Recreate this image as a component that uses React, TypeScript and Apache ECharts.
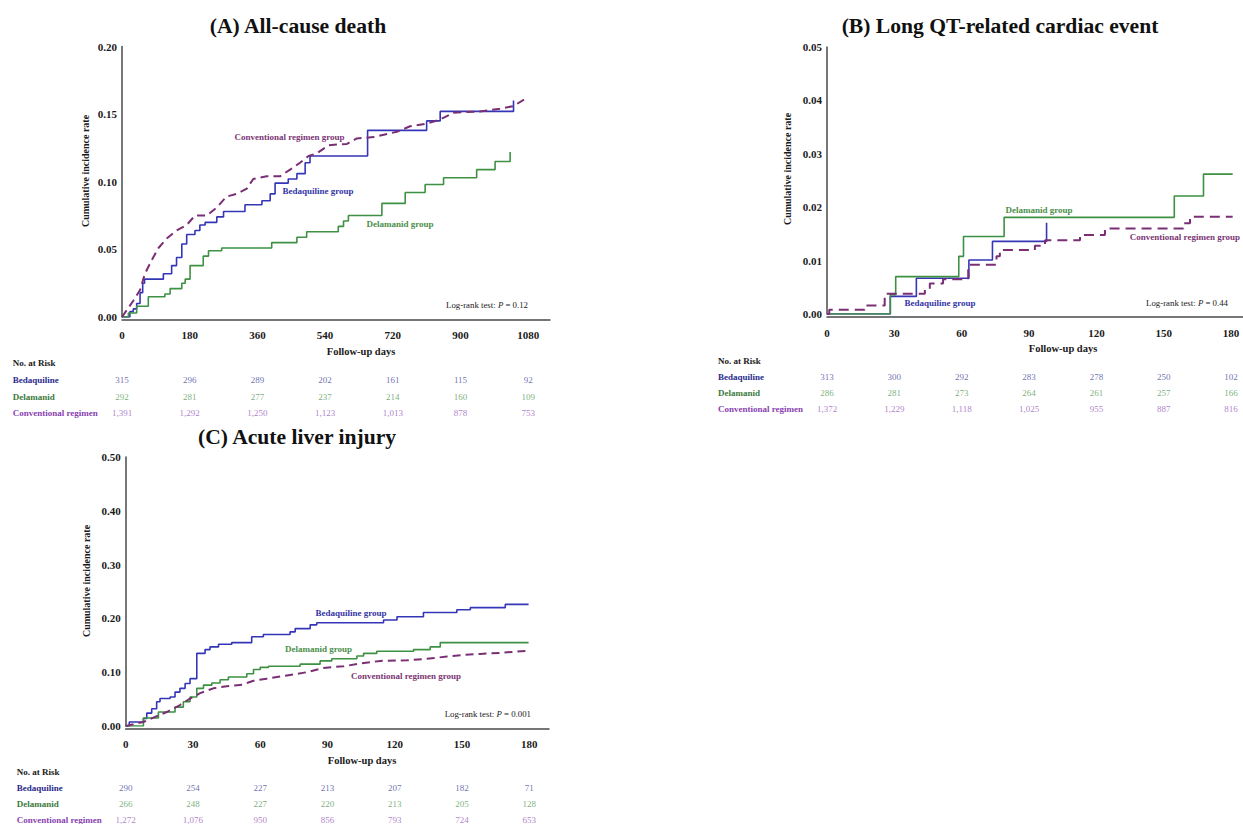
import React, { useEffect, useRef } from "react";
import * as echarts from "echarts";

const FONT = "'Liberation Serif', 'Times New Roman', serif";

// ---------------- Data ----------------
const groups = ["Bedaquiline", "Delamanid", "Conventional regimen"];

// Panel A: All-cause death
const aTicks = [0, 180, 360, 540, 720, 900, 1080];
const aBedaDays = [0, 21, 30, 39, 48, 55, 60, 110, 132, 145, 159, 172, 194, 207, 221, 252, 270, 327, 372, 394, 407, 442, 465, 487, 500, 653, 810, 846, 1041];
const aBedaRate = [0, 0.004, 0.006, 0.01, 0.018, 0.025, 0.028, 0.032, 0.038, 0.044, 0.054, 0.061, 0.064, 0.068, 0.07, 0.074, 0.078, 0.083, 0.086, 0.091, 0.099, 0.102, 0.106, 0.114, 0.119, 0.138, 0.145, 0.152, 0.16];
const aDelaDays = [0, 17, 39, 70, 114, 128, 159, 168, 181, 216, 230, 265, 398, 465, 491, 575, 589, 602, 691, 753, 806, 855, 943, 992, 1032];
const aDelaRate = [0, 0.003, 0.008, 0.015, 0.017, 0.021, 0.025, 0.028, 0.038, 0.045, 0.049, 0.051, 0.055, 0.059, 0.063, 0.067, 0.071, 0.075, 0.084, 0.092, 0.098, 0.103, 0.109, 0.115, 0.122];
const aConvDays = [0, 30, 48, 61, 79, 97, 119, 145, 172, 194, 225, 252, 278, 305, 332, 349, 385, 420, 447, 473, 496, 518, 549, 598, 624, 669, 731, 766, 810, 846, 881, 952, 1005, 1041, 1076];
const aConvRate = [0, 0.012, 0.02, 0.032, 0.042, 0.051, 0.058, 0.064, 0.068, 0.075, 0.075, 0.081, 0.089, 0.091, 0.095, 0.102, 0.104, 0.104, 0.109, 0.114, 0.119, 0.121, 0.127, 0.128, 0.132, 0.133, 0.137, 0.141, 0.143, 0.146, 0.151, 0.152, 0.154, 0.156, 0.162];
const aRiskBeda = [315, 296, 289, 202, 161, 115, 92];
const aRiskDela = [292, 281, 277, 237, 214, 160, 109];
const aRiskConv = [1391, 1292, 1250, 1123, 1013, 878, 753];

// Panel B: Long QT-related cardiac event
const bTicks = [0, 30, 60, 90, 120, 150, 180];
const bBedaDays = [0, 28.2, 39.8, 63.2, 73.7, 97.8];
const bBedaRate = [0, 0.0033, 0.0067, 0.0101, 0.0136, 0.0171];
const bDelaDays = [0, 28.2, 30.6, 58.7, 60.8, 78.9, 154.7, 167.7, 180.7];
const bDelaRate = [0, 0.0036, 0.007, 0.0108, 0.0145, 0.0181, 0.0221, 0.0262, 0.0262];
const bConvDays = [0, 1, 16.8, 25.7, 43.6, 45.8, 51.7, 62.9, 63.6, 75.5, 77, 92.6, 97.1, 112.7, 123.8, 158.7, 161.7, 180.7];
const bConvRate = [0, 0.0008, 0.0016, 0.0038, 0.0047, 0.0057, 0.0065, 0.0083, 0.0092, 0.0108, 0.012, 0.0128, 0.0138, 0.0148, 0.016, 0.017, 0.0182, 0.0182];
const bRiskBeda = [313, 300, 292, 283, 278, 250, 102];
const bRiskDela = [286, 281, 273, 264, 261, 257, 166];
const bRiskConv = [1372, 1229, 1118, 1025, 955, 887, 816];

// Panel C: Acute liver injury
const cTicks = [0, 30, 60, 90, 120, 150, 180];
const cBedaDays = [0, 1.6, 7.9, 9.4, 11.6, 13.8, 15.3, 19.8, 22, 24.2, 26.5, 28.7, 31.7, 35.4, 37.6, 41.4, 47.3, 56.2, 61.4, 73.3, 75.6, 82.3, 85.2, 115, 121, 132.8, 147.7, 153.7, 169.3, 179.7];
const cBedaRate = [0, 0.0075, 0.014, 0.024, 0.032, 0.045, 0.051, 0.054, 0.063, 0.07, 0.079, 0.088, 0.135, 0.142, 0.147, 0.152, 0.155, 0.166, 0.17, 0.175, 0.181, 0.188, 0.192, 0.197, 0.203, 0.211, 0.216, 0.22, 0.226, 0.226];
const cDelaDays = [0, 7.9, 14.6, 22, 25.7, 28.7, 31.7, 34.7, 38.4, 42.1, 45.8, 54, 57, 60, 63.7, 77.8, 86.7, 91.9, 103.1, 106.1, 112, 128.4, 135.8, 140.3, 179.7];
const cDelaRate = [0, 0.015, 0.026, 0.035, 0.045, 0.054, 0.07, 0.076, 0.08, 0.086, 0.091, 0.097, 0.105, 0.109, 0.111, 0.115, 0.121, 0.125, 0.13, 0.135, 0.139, 0.142, 0.147, 0.155, 0.155];
const cConvDays = [0, 7.9, 13.1, 18.3, 24.2, 28.7, 33.2, 39.1, 45.1, 51, 57, 62.9, 71.9, 80.8, 88.2, 97.1, 104.6, 113.5, 125.4, 134.3, 143.3, 150.7, 158.1, 167.1, 179.7];
const cConvRate = [0, 0.0075, 0.017, 0.026, 0.039, 0.051, 0.061, 0.07, 0.074, 0.076, 0.084, 0.088, 0.094, 0.1, 0.108, 0.111, 0.116, 0.121, 0.122, 0.125, 0.129, 0.132, 0.134, 0.136, 0.14];
const cRiskBeda = [290, 254, 227, 213, 207, 182, 71];
const cRiskDela = [266, 248, 227, 220, 213, 205, 128];
const cRiskConv = [1272, 1076, 950, 856, 793, 724, 653];

const titles = ["(A) All-cause death", "(B) Long QT-related cardiac event", "(C) Acute liver injury"];
const pTexts = ["0.12", "0.44", "0.001"];

// ---------------- Styles / layout ----------------
const BLUE = "#3535b8";
const GREEN = "#3e9142";
const PURPLE = "#7a2f74";
const LBL_BLUE = "#3535a6";
const LBL_GREEN = "#4b8f4b";
const LBL_PURPLE = "#7b3575";
const ROW_LABEL_COLORS = ["#2b2b8c", "#3d7a3d", "#8a3fb0"];
const ROW_NUM_COLORS = ["#4a4a9e", "#5a9a5a", "#9a60c0"];

type Layout = {
  left: number; top: number; width: number; height: number;
  xMax: number; xInterval: number; yMax: number; yInterval: number;
  labelMargin: number; dash: number[];
  riskTop: number; rowH: number; labelX: number;
  title: [number, number]; yTitle: [number, number]; xTitle: [number, number];
  noRisk: [number, number];
  convStep: boolean;
  lblBeda: [number, number]; lblDela: [number, number]; lblConv: [number, number, string];
  logrank: [number, number];
};

const layouts: Layout[] = [
  {
    left: 122, top: 46.5, width: 428, height: 270.5, xMax: 1138, xInterval: 180, yMax: 0.2, yInterval: 0.05,
    labelMargin: 9, dash: [8, 5], riskTop: 371.75, rowH: 16.5, labelX: 12.7,
    title: [298, 26], yTitle: [85, 171], xTitle: [361, 351.7], noRisk: [12.7, 363], convStep: false,
    lblBeda: [318, 191], lblDela: [400, 224], lblConv: [289.5, 137, "center"], logrank: [528, 305],
  },
  {
    left: 827, top: 47, width: 416, height: 267, xMax: 185.3, xInterval: 30, yMax: 0.05, yInterval: 0.01,
    labelMargin: 10, dash: [10, 6], riskTop: 368.55, rowH: 16.3, labelX: 718,
    title: [1000, 26], yTitle: [787, 169], xTitle: [1063, 348], noRisk: [718, 360.7], convStep: true,
    lblBeda: [940, 303], lblDela: [1039, 210], lblConv: [1240, 237, "right"], logrank: [1228, 303],
  },
  {
    left: 125.7, top: 457, width: 423.3, height: 269, xMax: 188.8, xInterval: 30, yMax: 0.5, yInterval: 0.1,
    labelMargin: 9.5, dash: [8, 5], riskTop: 780, rowH: 16, labelX: 16.7,
    title: [297, 437], yTitle: [86, 581], xTitle: [362, 760], noRisk: [16.7, 771.7], convStep: false,
    lblBeda: [351, 613], lblDela: [318.5, 649], lblConv: [406, 676, "center"], logrank: [531, 714],
  },
];

const zip = (xs: number[], ys: number[]) => xs.map((x, i) => [x, ys[i]]);

const panels = [
  { ticks: aTicks, beda: zip(aBedaDays, aBedaRate), dela: zip(aDelaDays, aDelaRate), conv: zip(aConvDays, aConvRate), risk: [aRiskBeda, aRiskDela, aRiskConv] },
  { ticks: bTicks, beda: zip(bBedaDays, bBedaRate), dela: zip(bDelaDays, bDelaRate), conv: zip(bConvDays, bConvRate), risk: [bRiskBeda, bRiskDela, bRiskConv] },
  { ticks: cTicks, beda: zip(cBedaDays, cBedaRate), dela: zip(cDelaDays, cDelaRate), conv: zip(cConvDays, cConvRate), risk: [cRiskBeda, cRiskDela, cRiskConv] },
];

function buildOption() {
  const grid: any[] = [];
  const xAxis: any[] = [];
  const yAxis: any[] = [];
  const series: any[] = [];
  const graphic: any[] = [];

  panels.forEach((p, i) => {
    const L = layouts[i];
    grid.push({ left: L.left, top: L.top, width: L.width, height: L.height, containLabel: false, outerBoundsMode: "none" });
    xAxis.push({
      gridIndex: i, type: "value", min: 0, max: L.xMax, interval: L.xInterval, offset: 3,
      axisLine: { show: true, onZero: false, lineStyle: { color: "#4a4a4a", width: 1.5 } },
      axisTick: { show: false }, splitLine: { show: false },
      axisLabel: {
        margin: L.labelMargin, fontFamily: FONT, fontWeight: "bold", fontSize: 11, color: "#1a1a1a",
        showMaxLabel: false,
        formatter: (v: number) => (p.ticks.indexOf(v) >= 0 ? String(v) : ""),
      },
    });
    yAxis.push({
      gridIndex: i, type: "value", min: 0, max: L.yMax, interval: L.yInterval,
      axisLine: { show: true, lineStyle: { color: "#4a4a4a", width: 1.5 } },
      axisTick: { show: false }, splitLine: { show: false },
      axisLabel: {
        margin: 5, fontFamily: FONT, fontWeight: "bold", fontSize: 11, color: "#1a1a1a",
        formatter: (v: number) => v.toFixed(2),
      },
    });
    const common = { xAxisIndex: i, yAxisIndex: i, symbol: "none", showSymbol: false, silent: true, z: 3 };
    series.push({ ...common, type: "line", name: "Bedaquiline", step: "end", data: p.beda, lineStyle: { color: BLUE, width: 1.6 }, itemStyle: { color: BLUE } });
    series.push({ ...common, type: "line", name: "Delamanid", step: "end", data: p.dela, lineStyle: { color: GREEN, width: 1.6 }, itemStyle: { color: GREEN } });
    series.push({ ...common, type: "line", name: "Conventional regimen", step: L.convStep ? "end" : false, data: p.conv, z: 4, lineStyle: { color: PURPLE, width: 2, type: L.dash }, itemStyle: { color: PURPLE } });
  });

  // risk tables
  panels.forEach((p, i) => {
    const L = layouts[i];
    const gi = 3 + i;
    grid.push({ left: L.left, top: L.riskTop, width: L.width, height: L.rowH * 3, containLabel: false, outerBoundsMode: "none" });
    xAxis.push({ gridIndex: gi, type: "value", min: 0, max: L.xMax, show: false });
    yAxis.push({
      gridIndex: gi, type: "category", data: groups, inverse: true,
      axisLine: { show: false }, axisTick: { show: false }, splitLine: { show: false },
      axisLabel: {
        align: "left", margin: L.left - L.labelX, fontFamily: FONT, fontWeight: "bold", fontSize: 9,
        color: (_v: string, idx: number) => ROW_LABEL_COLORS[idx],
      },
    });
    p.risk.forEach((row, r) => {
      series.push({
        type: "scatter", xAxisIndex: gi, yAxisIndex: gi, silent: true,
        symbol: "circle", symbolSize: 1, itemStyle: { color: "rgba(0,0,0,0)" },
        data: p.ticks.map((t, k) => [t, groups[r], row[k]]),
        encode: { x: 0, y: 1 },
        label: {
          show: true, position: "inside", fontFamily: FONT, fontSize: 9, color: ROW_NUM_COLORS[r],
          formatter: (q: any) => Number(q.value[2]).toLocaleString("en-US"),
        },
      });
    });
  });

  // texts
  layouts.forEach((L, i) => {
    graphic.push({ type: "text", x: L.title[0], y: L.title[1], style: { text: titles[i], font: `bold 21.6px ${FONT}`, fill: "#111", textAlign: "center", textVerticalAlign: "middle" } });
    graphic.push({ type: "text", x: L.yTitle[0], y: L.yTitle[1], rotation: Math.PI / 2, style: { text: "Cumulative incidence rate", font: `bold 10px ${FONT}`, fill: "#1a1a1a", textAlign: "center", textVerticalAlign: "middle" } });
    graphic.push({ type: "text", x: L.xTitle[0], y: L.xTitle[1], style: { text: "Follow-up days", font: `bold 10.5px ${FONT}`, fill: "#1a1a1a", textAlign: "center", textVerticalAlign: "middle" } });
    graphic.push({ type: "text", x: L.noRisk[0], y: L.noRisk[1], style: { text: "No. at Risk", font: `bold 9px ${FONT}`, fill: "#1a1a1a", textAlign: "left", textVerticalAlign: "middle" } });
    graphic.push({ type: "text", x: L.lblBeda[0], y: L.lblBeda[1], z: 10, style: { text: "Bedaquiline group", font: `bold 9px ${FONT}`, fill: LBL_BLUE, textAlign: "center", textVerticalAlign: "middle" } });
    graphic.push({ type: "text", x: L.lblDela[0], y: L.lblDela[1], z: 10, style: { text: "Delamanid group", font: `bold 9px ${FONT}`, fill: LBL_GREEN, textAlign: "center", textVerticalAlign: "middle" } });
    graphic.push({ type: "text", x: L.lblConv[0], y: L.lblConv[1], z: 10, style: { text: "Conventional regimen group", font: `bold 9px ${FONT}`, fill: LBL_PURPLE, textAlign: L.lblConv[2], textVerticalAlign: "middle" } });
    graphic.push({
      type: "text", x: L.logrank[0], y: L.logrank[1], z: 10,
      style: {
        text: `{n|Log-rank test: }{i|P}{n| = ${pTexts[i]}}`,
        textAlign: "right", textVerticalAlign: "middle",
        rich: {
          n: { fontFamily: FONT, fontSize: 8.8, fill: "#222", color: "#222" },
          i: { fontFamily: FONT, fontSize: 8.8, fontStyle: "italic", fill: "#222", color: "#222" },
        },
      },
    });
  });

  return {
    animation: false,
    backgroundColor: "#ffffff",
    grid, xAxis, yAxis, series, graphic,
  };
}

export default function App() {
  const ref = useRef<HTMLDivElement>(null);
  useEffect(() => {
    document.body.style.margin = "0";
    if (!ref.current) return;
    const chart = echarts.init(ref.current, null, { renderer: "svg" });
    chart.setOption(buildOption() as any);
    return () => chart.dispose();
  }, []);
  return <div ref={ref} style={{ width: 1243, height: 824 }} />;
}
